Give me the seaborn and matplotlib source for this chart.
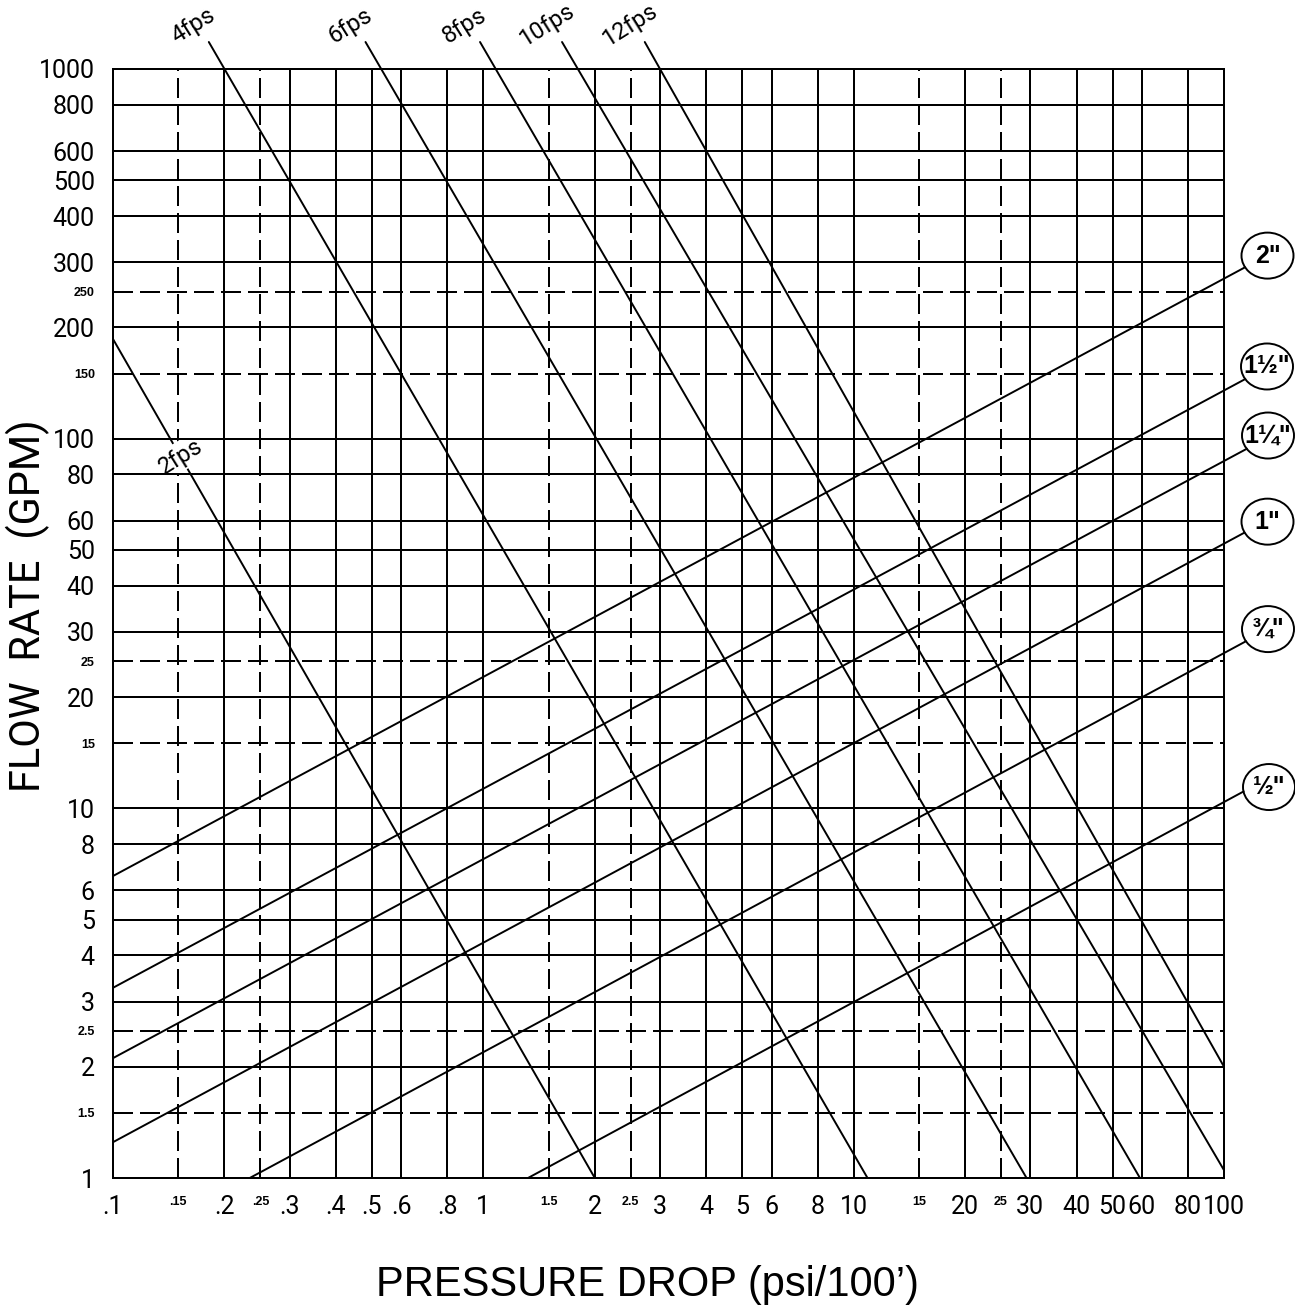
import numpy as np
import pandas as pd
import seaborn as sns
import matplotlib.pyplot as plt
from matplotlib.patches import Ellipse
from matplotlib.transforms import IdentityTransform

# grid / tick values
x_major = [0.1, 0.2, 0.3, 0.4, 0.5, 0.6, 0.8, 1, 2, 3, 4, 5, 6, 8, 10, 20, 30, 40, 50, 60, 80, 100]
x_major_labels = ['.1', '.2', '.3', '.4', '.5', '.6', '.8', '1', '2', '3', '4', '5', '6', '8', '10',
                  '20', '30', '40', '50', '60', '80', '100']
x_minor = [0.15, 0.25, 1.5, 2.5, 15, 25]
x_minor_labels = ['.15', '.25', '1.5', '2.5', '15', '25']
y_major = [1, 2, 3, 4, 5, 6, 8, 10, 20, 30, 40, 50, 60, 80, 100, 200, 300, 400, 500, 600, 800, 1000]
y_major_labels = [str(v) for v in y_major]
y_minor = [1.5, 2.5, 15, 25, 150, 250]
y_minor_labels = ['1.5', '2.5', '15', '25', '150', '250']

# velocity lines (start / end points)
vel_names = ['2fps', '4fps', '6fps', '8fps', '10fps', '12fps']
vel_dp_start = [0.1, 0.2, 0.53, 1.08, 1.8, 3.0]
vel_q_start = [186, 1000, 1000, 1000, 1000, 1000]
vel_dp_end = [2.0, 10.9, 29.3, 59.3, 100, 100]
vel_q_end = [1, 1, 1, 1, 1.05, 2.0]

# pipe size lines
pipe_names = ['2"', '1½"', '1¼"', '1"', '¾"', '½"']
pipe_dp_start = [0.1, 0.1, 0.1, 0.1, 0.234, 1.32]
pipe_q_start = [6.56, 3.27, 2.11, 1.25, 1, 1]
pipe_dp_end = [100, 100, 100, 100, 100, 100]
pipe_q_end = [271, 135, 87, 52, 26.3, 10.4]

# layout of the circled pipe labels (pixel offset of centre from right-edge point)
pipe_lbl_dx = [43.5, 43, 44, 43.5, 44, 45]
pipe_lbl_dy = [23, 24, 25.5, 22, 24, 15]

W, H = 1295, 1311
LW = 1.44
thin = 'normal'

sns.set_style('white')
plt.rcParams['font.family'] = ['Roboto', 'DejaVu Sans']
plt.rcParams['text.color'] = 'black'
plt.rcParams['xtick.color'] = 'black'
plt.rcParams['ytick.color'] = 'black'

fig = plt.figure(figsize=(W / 100, H / 100), dpi=100)
ax = fig.add_axes([113 / W, 1 - 1178 / H, (1224 - 113) / W, (1178 - 69) / H])
ax.set_xscale('log')
ax.set_yscale('log')
ax.set_xlim(0.1, 100)
ax.set_ylim(1, 1000)

# grid
for xv in x_major:
    ax.axvline(xv, color='k', lw=LW, zorder=4)
for yv in y_major:
    ax.axhline(yv, color='k', lw=LW, zorder=4)
for xv in x_minor:
    ax.axvline(xv, color='k', lw=LW, ls=(0, (10, 3.5)), zorder=1)
for yv in y_minor:
    ax.axhline(yv, color='k', lw=LW, ls=(0, (10, 3.5)), zorder=1)
for s in ax.spines.values():
    s.set_linewidth(LW)
    s.set_color('k')

# lines
rows = []
for n, x0, y0, x1, y1 in zip(vel_names, vel_dp_start, vel_q_start, vel_dp_end, vel_q_end):
    rows += [dict(line=n, dp=x0, q=y0), dict(line=n, dp=x1, q=y1)]
for n, x0, y0, x1, y1 in zip(pipe_names, pipe_dp_start, pipe_q_start, pipe_dp_end, pipe_q_end):
    rows += [dict(line=n, dp=x0, q=y0), dict(line=n, dp=x1, q=y1)]
df = pd.DataFrame(rows)
sns.lineplot(data=df, x='dp', y='q', units='line', estimator=None, sort=False,
             color='black', linewidth=1.4, legend=False, ax=ax, zorder=2)

# velocity lines run a bit above the frame, labels sit on top
ext_dec = 27 / 369.7
for n, x0, y0, x1, y1 in zip(vel_names, vel_dp_start, vel_q_start, vel_dp_end, vel_q_end):
    k = (np.log10(y1) - np.log10(y0)) / (np.log10(x1) - np.log10(x0))
    if n == '2fps':
        xl = 0.152
        yl = 10 ** (np.log10(y0) + k * (np.log10(xl) - np.log10(x0)))
        ax.text(xl, yl, n, rotation=32, ha='center', va='center', fontsize=17,
                fontweight=thin, zorder=3,
                bbox=dict(fc='white', ec='none', pad=2))
        continue
    q_ext = y0 * 10 ** ext_dec
    dp_ext = 10 ** (np.log10(x0) + (np.log10(q_ext) - np.log10(y0)) / k)
    ax.plot([x0, dp_ext], [y0, q_ext], color='black', lw=1.4, clip_on=False, zorder=2)
    ax.annotate(n, xy=(dp_ext, q_ext), xytext=(-11, 12), textcoords='offset points',
                rotation=32, ha='center', va='center', fontsize=17, fontweight=thin,
                annotation_clip=False)

# circled pipe labels
a, b = 26, 23
for n, x0, y0, x1, y1, ddx, ddy in zip(pipe_names, pipe_dp_start, pipe_q_start, pipe_dp_end,
                                      pipe_q_end, pipe_lbl_dx, pipe_lbl_dy):
    p0 = ax.transData.transform((x1, y1))
    ps = ax.transData.transform((x0, y0))
    d = (p0 - ps) / np.hypot(*(p0 - ps))
    c = p0 + np.array([ddx, ddy])
    A = (d[0] / a) ** 2 + (d[1] / b) ** 2
    B = 2 * ((p0[0] - c[0]) * d[0] / a ** 2 + (p0[1] - c[1]) * d[1] / b ** 2)
    C = ((p0[0] - c[0]) / a) ** 2 + ((p0[1] - c[1]) / b) ** 2 - 1
    disc = B * B - 4 * A * C
    t = (-B - np.sqrt(disc)) / (2 * A) if disc > 0 else -B / (2 * A)
    p1 = p0 + t * d
    ax.plot([p0[0], p1[0]], [p0[1], p1[1]], color='black', lw=1.4,
            transform=IdentityTransform(), clip_on=False)
    ax.add_patch(Ellipse(c, 2 * a, 2 * b, fc='white', ec='black', lw=1.4,
                         transform=IdentityTransform(), clip_on=False))
    ax.text(c[0], c[1], n, transform=IdentityTransform(), ha='center', va='center',
            fontsize=18, fontweight='bold', family=['Liberation Sans', 'DejaVu Sans'])

# ticks
ax.set_xticks(x_major, labels=x_major_labels)
ax.set_xticks(x_minor, labels=x_minor_labels, minor=True)
ax.set_yticks(y_major, labels=y_major_labels)
ax.set_yticks(y_minor, labels=y_minor_labels, minor=True)
ax.tick_params(which='both', length=0)
ax.tick_params(axis='x', which='major', pad=12, labelsize=18)
ax.tick_params(axis='x', which='minor', pad=13, labelsize=9)
ax.tick_params(axis='y', which='major', pad=13, labelsize=18)
ax.tick_params(axis='y', which='minor', pad=13, labelsize=9)
for t in ax.get_xticklabels() + ax.get_yticklabels():
    t.set_fontweight(thin)
for t in ax.get_xticklabels(minor=True) + ax.get_yticklabels(minor=True):
    t.set_family(['Liberation Sans', 'DejaVu Sans'])
    t.set_fontweight('bold')
ax.set_xlabel('')
ax.set_ylabel('')

fig.text(647 / W, 1 - 1285 / H, 'PRESSURE DROP (psi/100’)', ha='center', va='center',
         fontsize=30, family=['Liberation Sans', 'DejaVu Sans'])
fig.text(28 / W, 1 - 606 / H, 'FLOW  RATE  (GPM)', rotation=90, ha='center', va='center',
         fontsize=30, fontweight=thin)

fig.savefig('out.png', dpi=100)
